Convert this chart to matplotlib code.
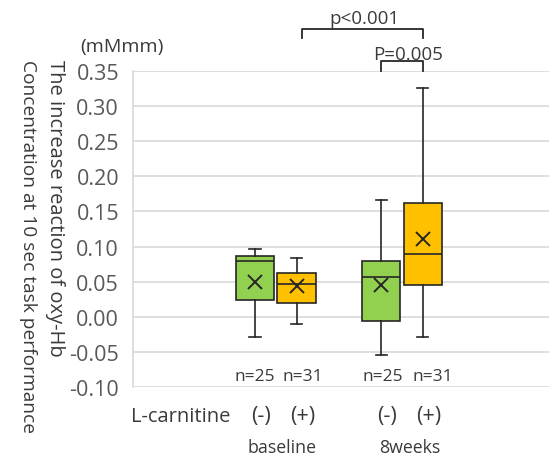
import matplotlib
matplotlib.use("Agg")
import matplotlib.pyplot as plt
import matplotlib.transforms as mtransforms

plt.rcParams['font.family'] = ['Open Sans', 'DejaVu Sans']

# box statistics
groups = ['baseline', '8weeks']
carnitine = ['(-)', '(+)', '(-)', '(+)']
n_labels = ['n=25', 'n=31', 'n=25', 'n=31']
whislo = [-0.029, -0.010, -0.055, -0.029]
q1 = [0.024, 0.020, -0.006, 0.045]
med = [0.079, 0.047, 0.056, 0.090]
q3 = [0.087, 0.062, 0.079, 0.162]
whishi = [0.096, 0.083, 0.166, 0.326]
means = [0.050, 0.043, 0.045, 0.111]
p_labels = ['p<0.001', 'P=0.005']
ylabel_lines = ['The increase reaction of oxy-Hb',
                'Concentration at 10 sec task performance']

colors = ['#92D050', '#FFC000', '#92D050', '#FFC000']
positions = [1, 2, 4.04, 5.04]

stats = []
for i in range(4):
    stats.append(dict(whislo=whislo[i], q1=q1[i], med=med[i], q3=q3[i],
                      whishi=whishi[i], mean=means[i], fliers=[]))

fig = plt.figure(figsize=(5.5, 4.6), dpi=100)
ax = fig.add_axes([133 / 550, 72.3 / 460, 416 / 550, 315.4 / 460])

edge = '#262626'
txt = '#3a3a3a'
bp = ax.bxp(stats, positions=positions, widths=0.92, patch_artist=True,
            showmeans=True, showfliers=False, capwidths=0.27,
            boxprops=dict(edgecolor=edge, linewidth=1.2),
            medianprops=dict(color=edge, linewidth=1.2),
            whiskerprops=dict(color=edge, linewidth=1.2),
            capprops=dict(color=edge, linewidth=1.2),
            meanprops=dict(marker='x', markersize=10, markeredgecolor=edge,
                           markeredgewidth=1.4))
for patch, c in zip(bp['boxes'], colors):
    patch.set_facecolor(c)

ax.set_xlim(-1.94, 8.08)
ax.set_ylim(-0.10, 0.35)
yt = [-0.10 + 0.05 * k for k in range(10)]
ax.set_yticks(yt)
ax.set_yticklabels(['%.2f' % v for v in yt])
ax.tick_params(axis='y', length=0, pad=10, labelsize=15.5, labelcolor='#595959')
ax.set_xticks([])
ax.grid(axis='y', color='#d9d9d9', linewidth=1.2)
ax.set_axisbelow(True)
for s in ['top', 'right', 'bottom']:
    ax.spines[s].set_visible(False)
ax.spines['left'].set_color('#d9d9d9')
ax.spines['left'].set_linewidth(1.2)

# n labels
n_off = [0, 0.16, 0.04, 0.23]
for p, lab, o in zip(positions, n_labels, n_off):
    ax.text(p + o, -0.085, lab, ha='center', va='center', fontsize=12.5,
            color=txt)

# category labels under axis
trans = mtransforms.blended_transform_factory(ax.transData, fig.transFigure)
for p, lab in zip(positions, carnitine):
    ax.text(p + 0.15, 1 - 416.7 / 460, lab, transform=trans, ha='center',
            va='center', fontsize=15.5, color=txt)
ax.text(-0.78, 1 - 416.7 / 460, 'L-carnitine', transform=trans, ha='center',
        va='center', fontsize=14.5, color=txt)
ax.text(1.64, 1 - 448 / 460, groups[0], transform=trans, ha='center',
        va='center', fontsize=12.8, color=txt)
ax.text(4.73, 1 - 448 / 460, groups[1], transform=trans, ha='center',
        va='center', fontsize=12.8, color=txt)

# significance brackets
bk = dict(color=edge, linewidth=1.3, clip_on=False)
ax.plot([2.12, 2.12, positions[3], positions[3]], [0.397, 0.41, 0.41, 0.398], **bk)
ax.plot([positions[2], positions[2], positions[3], positions[3]],
        [0.35, 0.364, 0.364, 0.35], **bk)
ax.text(3.64, 0.4135, p_labels[0], ha='center', va='bottom', fontsize=13.5,
        color=txt)
ax.text(4.68, 0.3625, p_labels[1], ha='center', va='bottom', fontsize=13.5,
        color=txt)

# y label (two lines, read top to bottom) and units
fig.text(55 / 550, 1 - 60 / 460, ylabel_lines[0], rotation=270,
         ha='center', va='top', fontsize=14.5, color=txt)
fig.text(28 / 550, 1 - 60 / 460, ylabel_lines[1], rotation=270,
         ha='center', va='top', fontsize=13.8, color=txt)
fig.text(122 / 550, 1 - 47 / 460, '(mMmm)', ha='center', va='center',
         fontsize=14, color=txt)

fig.savefig('out.png', dpi=100)
